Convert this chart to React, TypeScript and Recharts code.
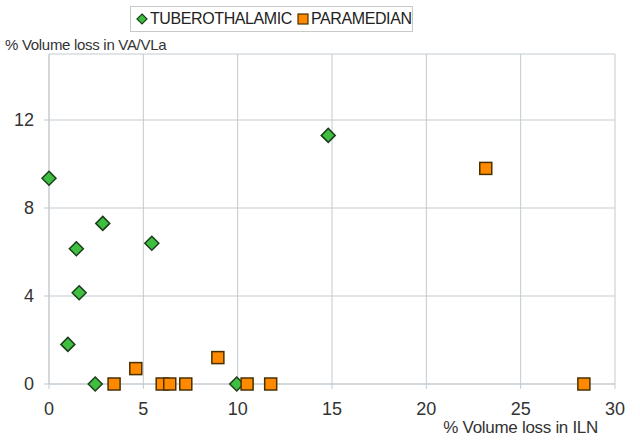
import React from "react";
import {
  ScatterChart,
  Scatter,
  XAxis,
  YAxis,
  CartesianGrid,
} from "recharts";

// values
const tuberoX = [0, 1.45, 1.6, 1.0, 2.85, 5.45, 2.45, 9.95, 14.8];
const tuberoY = [9.35, 6.15, 4.15, 1.8, 7.3, 6.4, 0, 0, 11.3];
const paraX = [3.45, 4.6, 6.0, 6.4, 7.25, 8.95, 10.5, 11.75, 23.15, 28.35];
const paraY = [0, 0.7, 0, 0, 0, 1.2, 0, 0, 9.8, 0];
const xTicks = [0, 5, 10, 15, 20, 25, 30];
const yTicks = [0, 4, 8, 12];

const GREEN = "#3fbf3f";
const GREEN_EDGE = "#1c3d1c";
const ORANGE = "#ff8a00";
const ORANGE_EDGE = "#4a3000";
const GRID = "#c3cbcf";
const FONT = "'Liberation Sans', Arial, sans-serif";

const tubero = tuberoX.map((x, i) => ({ x, y: tuberoY[i] }));
const para = paraX.map((x, i) => ({ x, y: paraY[i] }));

const Diamond = (props: any) => {
  const { cx, cy } = props;
  const r = 7;
  return (
    <path
      d={`M${cx},${cy - r}L${cx + r},${cy}L${cx},${cy + r}L${cx - r},${cy}Z`}
      fill={GREEN}
      stroke={GREEN_EDGE}
      strokeWidth={1.5}
    />
  );
};

const Square = (props: any) => {
  const { cx, cy } = props;
  const h = 6;
  return (
    <rect
      x={cx - h}
      y={cy - h}
      width={h * 2}
      height={h * 2}
      fill={ORANGE}
      stroke={ORANGE_EDGE}
      strokeWidth={1.5}
    />
  );
};

const App: React.FC = () => {
  return (
    <div style={{ position: "relative", width: 640, height: 441, fontFamily: FONT, background: "#fff" }}>
      <style>{`body{margin:0}`}</style>

      {/* legend */}
      <div
        style={{
          position: "absolute",
          left: 130,
          top: 6,
          width: 283,
          height: 26,
          boxSizing: "border-box",
          border: "1px solid #c8c8c8",
          display: "flex",
          alignItems: "center",
          paddingLeft: 5,
          fontSize: 16,
          color: "#222",
          whiteSpace: "nowrap",
        }}
      >
        <svg width={12} height={12} style={{ marginRight: 2 }}>
          <path d="M6,1L11,6L6,11L1,6Z" fill={GREEN} stroke={GREEN_EDGE} strokeWidth={1.2} />
        </svg>
        <span style={{ letterSpacing: -0.4 }}>TUBEROTHALAMIC</span>
        <svg width={12} height={12} style={{ marginLeft: 5, marginRight: 2 }}>
          <rect x={1} y={1} width={10} height={10} fill={ORANGE} stroke={ORANGE_EDGE} strokeWidth={1.2} />
        </svg>
        <span style={{ letterSpacing: -0.4 }}>PARAMEDIAN</span>
      </div>

      <div style={{ position: "absolute", left: 5, top: 36, fontSize: 15, color: "#333", letterSpacing: -0.3 }}>
        % Volume loss in VA/VLa
      </div>
      <div style={{ position: "absolute", right: 42, top: 418, fontSize: 17, color: "#333", letterSpacing: -0.3 }}>
        % Volume loss in ILN
      </div>

      <ScatterChart
        width={640}
        height={441}
        margin={{ top: 54, right: 25, bottom: 0, left: 0 }}
      >
        <CartesianGrid stroke={GRID} />
        <XAxis
          type="number"
          dataKey="x"
          domain={[0, 30]}
          ticks={xTicks}
          height={57}
          tickSize={5}
          tickMargin={13}
          stroke={GRID}
          tick={{ fill: "#333", fontSize: 18, fontFamily: FONT }}
        />
        <YAxis
          type="number"
          dataKey="y"
          domain={[0, 15]}
          ticks={yTicks}
          width={49}
          tickSize={5}
          tickMargin={10}
          stroke={GRID}
          tick={{ fill: "#333", fontSize: 18, fontFamily: FONT }}
        />
        <Scatter data={tubero} shape={Diamond} isAnimationActive={false} />
        <Scatter data={para} shape={Square} isAnimationActive={false} />
      </ScatterChart>
    </div>
  );
};

export default App;
